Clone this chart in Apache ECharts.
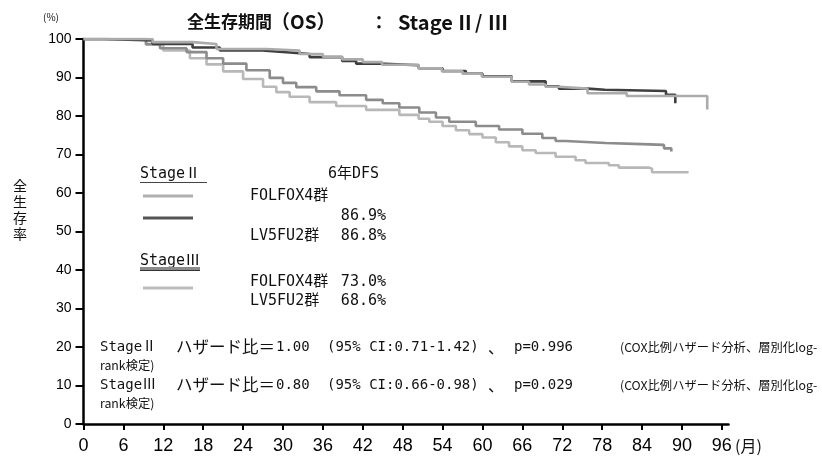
<!DOCTYPE html>
<html><head><meta charset="utf-8">
<script src="https://cdn.jsdelivr.net/npm/echarts@6/dist/echarts.min.js"></script>
<style>html,body{margin:0;padding:0;background:#fff}#c{width:822px;height:457px}</style>
</head><body><div id="c"></div>
<script>
// ---- data (months, overall survival %) ----
const xTicks = [0, 6, 12, 18, 24, 30, 36, 42, 48, 54, 60, 66, 72, 78, 84, 90, 96];
const yTicks = [0, 10, 20, 30, 40, 50, 60, 70, 80, 90, 100];

const stage2Folfox = [[0,100],[10.4,99.2],[16.4,98.7],[20,97.4],[27.5,97.0],[32.5,96.1],[36,95.4],[38.9,94.7],[42,94.0],[44.9,93.3],[50.4,92.4],[53.9,91.6],[57,91.0],[59.9,90.2],[64.4,88.9],[67,88.2],[69.5,87.6],[71.5,87.1],[75.8,85.9],[81.7,85.2],[93.8,81.7]];
const stage2Lv5fu2 = [[0,100],[3,99.6],[10.4,98.7],[16.4,97.8],[20.5,97.0],[26.9,96.5],[31,96.1],[34,95.3],[38.9,94.3],[41,93.6],[44.5,93.2],[50.4,92.4],[54,91.7],[57.5,91.0],[60,90.3],[64.4,89.0],[69.5,87.7],[71.5,87.1],[75.8,86.8],[78.4,86.5],[87.6,85.5],[89.0,83.3]];
const stage3Folfox = [[0,100],[9.4,98.7],[11.5,97.6],[15.5,96.6],[18.5,95.0],[21,93.6],[24.5,91.9],[28,89.9],[30,88.6],[32,87.5],[35,86.4],[38.5,85.4],[42.5,84.2],[45,83.3],[47.5,82.2],[50.5,80.9],[53,79.6],[55,78.5],[59,77.4],[62.5,76.5],[66,75.4],[69,74.3],[71,73.5],[72.5,73.0],[78.5,72.7],[84,72.5],[87.3,71.6],[88.4,70.8]];
const stage3Lv5fu2 = [[0,100],[9.4,98.5],[12,97.0],[16,95.0],[18.5,93.4],[21,91.6],[24,89.6],[27,87.6],[29,86.2],[31,85.0],[34,83.6],[38,82.6],[42.5,81.6],[47.5,80.3],[50.4,79.3],[52,78.5],[54,77.4],[56,76.3],[58,75.3],[60,74.4],[62,73.2],[64,72.1],[66,71.1],[68,70.4],[71,69.4],[74,68.5],[75.5,67.8],[79,67.2],[80.5,66.6],[85,66.3],[85.5,65.4],[91,65.3]];

const titleParts = ['全生存期間', '（OS）', '：', 'Stage', 'Ⅱ', '/', 'Ⅲ'];
const legendTexts = { s2: 'StageⅡ', s3: 'StageⅢ', head: '6年DFS', folfox: 'FOLFOX4群', lv: 'LV5FU2群',
  v2f: '86.9%', v2l: '86.8%', v3f: '73.0%', v3l: '68.6%' };
const statRows = [
  ['StageⅡ', 'ハザード比＝', '1.00', '(95% CI:0.71-1.42)', '、', 'p=0.996'],
  ['StageⅢ', 'ハザード比＝', '0.80', '(95% CI:0.66-0.98)', '、', 'p=0.029']
];
const noteA = '(COX比例ハザード分析、層別化log-';
const noteB = 'rank検定)';

// ---- chart ----
const JP = '"Noto Sans CJK JP", sans-serif';
const MONO = '"DejaVu Sans Mono", "Noto Sans CJK JP", monospace';
const chart = echarts.init(document.getElementById('c'), null, {renderer: 'canvas'});

function txt(text, x, y, size, opts) {
  opts = opts || {};
  return { type: 'text', z: 10, style: { text: text, x: x, y: y, fill: '#111',
    font: (opts.weight || 'normal') + ' ' + size + 'px ' + (opts.family || JP),
    textAlign: opts.align || 'left', textVerticalAlign: 'middle' } };
}
function ln(x1, y1, x2, y2, color, w) {
  return { type: 'line', z: 10, shape: {x1, y1, x2, y2}, style: { stroke: color, lineWidth: w } };
}

const graphics = [
  txt(titleParts[0], 187, 22, 17, {weight: 'bold'}),
  txt(titleParts[1], 271, 22, 19, {weight: 'bold'}),
  txt(titleParts[2], 370, 22, 18, {weight: 'bold'}),
  txt(titleParts[3], 398, 22, 20, {weight: 'bold'}),
  txt(titleParts[4], 455, 22, 20, {weight: 'bold'}),
  txt(titleParts[5], 475, 22, 19, {weight: 'bold'}),
  txt(titleParts[6], 488, 22, 20, {weight: 'bold'}),
  txt('(%)', 43, 17, 10),
  { type: 'text', z: 10, style: { text: '全\n生\n存\n率', x: 20, y: 210, fill: '#111', font: '14px ' + JP,
      lineHeight: 16, textAlign: 'center', textVerticalAlign: 'middle' } },
  txt('(月)', 735, 446, 16),
  // legend
  txt(legendTexts.s2, 140, 174, 15, {family: MONO}),
  ln(140, 182.5, 207, 182.5, '#444', 1),
  txt(legendTexts.head, 328, 174, 15, {family: MONO}),
  ln(143, 196, 193, 196, '#b0b0b0', 3),
  txt(legendTexts.folfox, 250, 196, 15, {family: MONO}),
  ln(143, 218, 193, 218, '#555', 3),
  txt(legendTexts.v2f, 386, 216, 15, {align: 'right', family: MONO}),
  txt(legendTexts.lv, 250, 236, 15, {family: MONO}),
  txt(legendTexts.v2l, 386, 236, 15, {align: 'right', family: MONO}),
  txt(legendTexts.s3, 140, 261, 15, {family: MONO}),
  ln(140, 268.5, 200, 268.5, '#8a8a8a', 3),
  ln(140, 270.5, 200, 270.5, '#333', 1),
  ln(143, 288, 193, 288, '#bcbcbc', 3),
  txt(legendTexts.folfox, 250, 282, 15, {family: MONO}),
  txt(legendTexts.v3f, 386, 282, 15, {align: 'right', family: MONO}),
  txt(legendTexts.lv, 250, 301, 15, {family: MONO}),
  txt(legendTexts.v3l, 386, 301, 15, {align: 'right', family: MONO})
];
const rowY = [347, 385];
const segX = [100, 176, 276, 327, 488, 514];
const segFont = [[14, MONO], [16.5, JP], [14, MONO], [14, MONO], [16, JP], [14, MONO]];
statRows.forEach(function (row, i) {
  row.forEach(function (s, j) { graphics.push(txt(s, segX[j], rowY[i], segFont[j][0], {family: segFont[j][1]})); });
  graphics.push(txt(noteA, 620, rowY[i], 12.3));
  graphics.push(txt(noteB, 100, rowY[i] + 18, 12.3));
});

function km(name, data, color) {
  return { name: name, type: 'line', step: 'end', data: data, showSymbol: false, symbol: 'none',
    lineStyle: { color: color, width: 2.6 }, animation: false, z: 3 };
}

chart.setOption({
  animation: false,
  backgroundColor: '#fff',
  grid: { left: 83.5, right: 93.5, top: 39, bottom: 33, containLabel: false },
  xAxis: {
    type: 'value', min: 0, max: 97,
    axisLine: { show: true, lineStyle: { color: '#000', width: 2.5 } },
    axisTick: { show: true, customValues: xTicks, length: 6, lineStyle: { color: '#000', width: 2 } },
    axisLabel: { customValues: xTicks, fontFamily: '"Liberation Sans Narrow", sans-serif', fontSize: 18, color: '#000', margin: 13 },
    splitLine: { show: false }
  },
  yAxis: {
    type: 'value', min: 0, max: 100, interval: 10,
    axisLine: { show: true, lineStyle: { color: '#000', width: 2.5 } },
    axisTick: { show: true, length: 8, lineStyle: { color: '#000', width: 2 } },
    axisLabel: { fontFamily: '"Liberation Sans", sans-serif', fontSize: 14, color: '#000', margin: 12 },
    splitLine: { show: false }
  },
  series: [
    km('StageⅢ LV5FU2群', stage3Lv5fu2, '#b8b8b8'),
    km('StageⅢ FOLFOX4群', stage3Folfox, '#8c8c8c'),
    km('StageⅡ LV5FU2群', stage2Lv5fu2, '#3f3f3f'),
    km('StageⅡ FOLFOX4群', stage2Folfox, '#ababab')
  ],
  graphic: graphics
});
</script>
</body></html>
